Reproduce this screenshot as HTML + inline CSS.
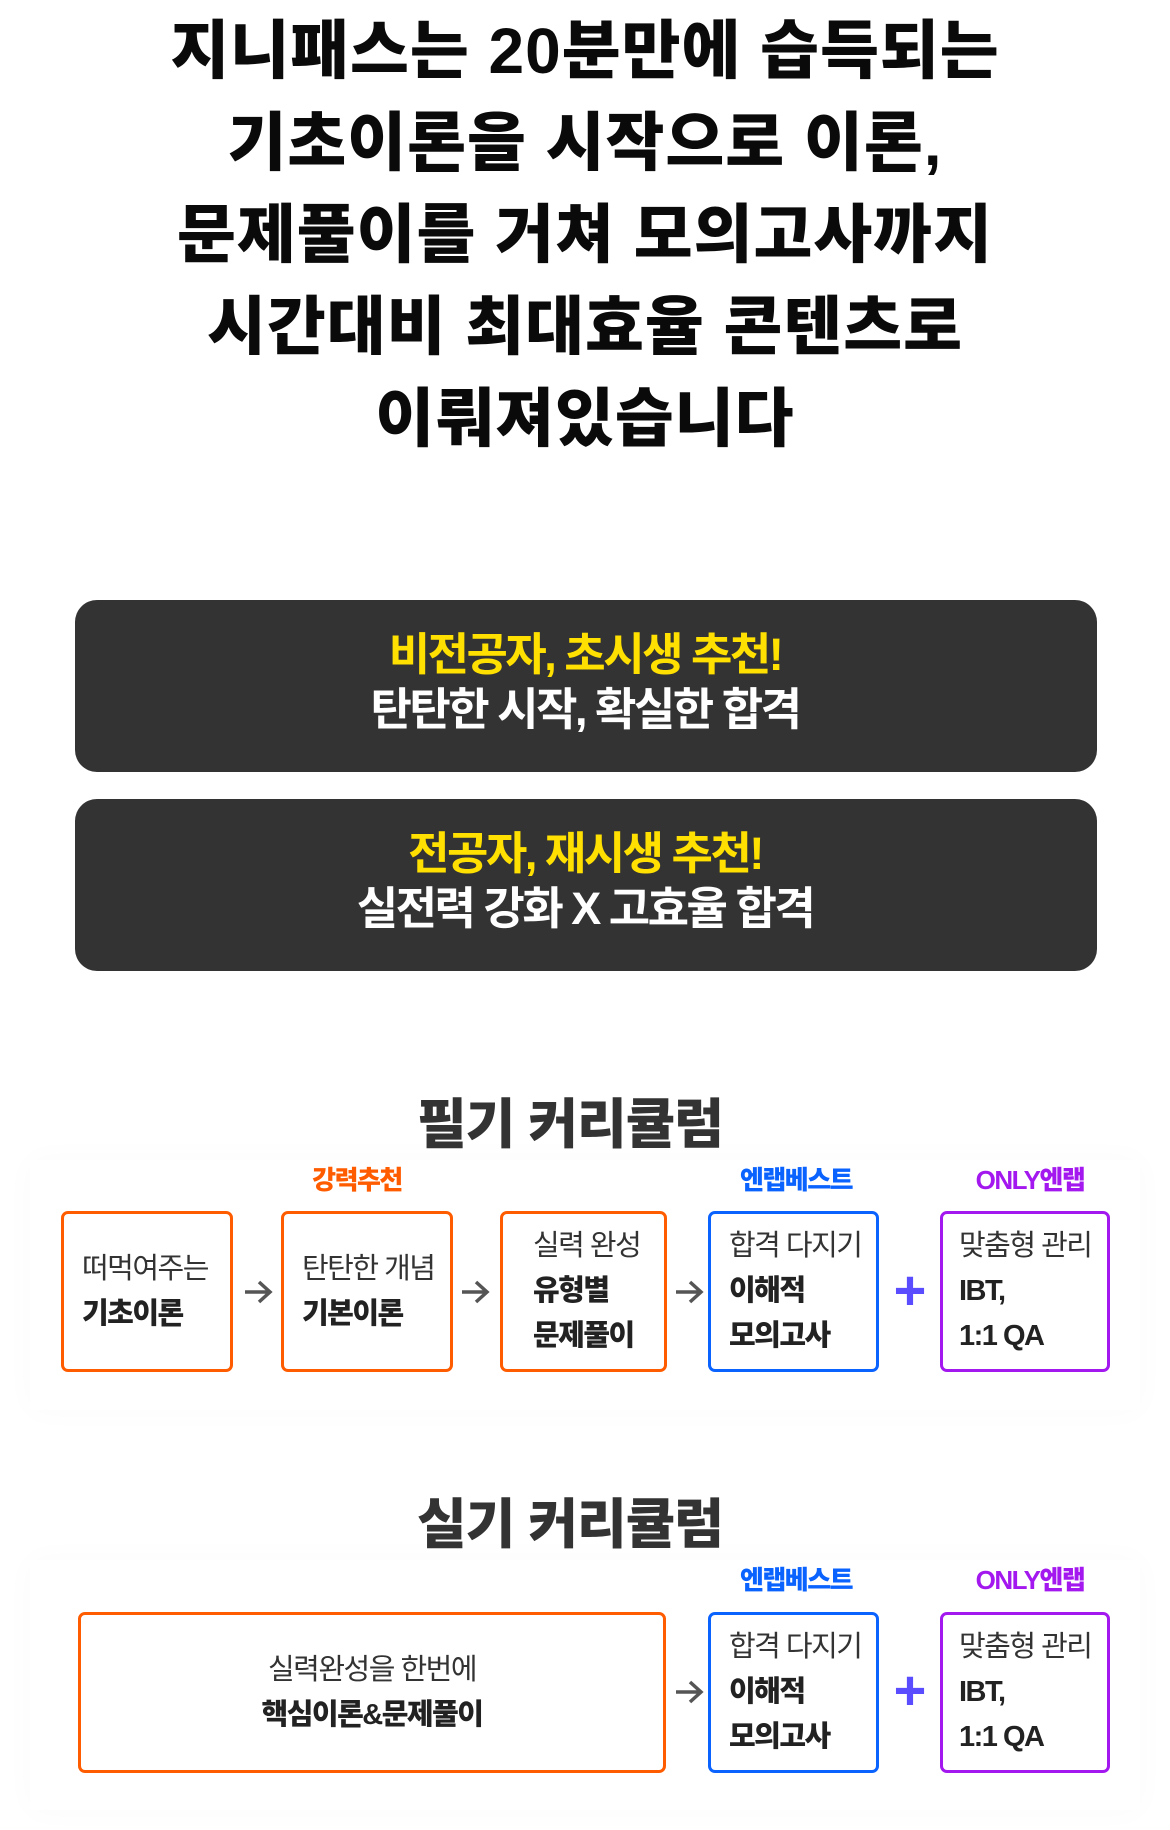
<!DOCTYPE html>
<html><head><meta charset="utf-8"><style>
*{margin:0;padding:0;box-sizing:border-box}
body{width:1170px;height:1830px;background:#fff;position:relative;overflow:hidden;font-family:"Liberation Sans","Noto Sans CJK KR",sans-serif;color:#111}
.t{position:absolute;left:0;width:1170px;text-align:center}
.title{font-size:64px;font-weight:900;letter-spacing:1px;line-height:92px;top:5px;color:#0a0a0a}
.dark{position:absolute;left:75px;width:1022px;height:172px;background:#333;border-radius:22px}
.y{color:#ffe000;font-size:45px;font-weight:700;letter-spacing:-2.5px}
.w{color:#fff;font-size:45px;font-weight:700;letter-spacing:-2.5px}
.h{font-size:54px;font-weight:900;letter-spacing:-1px;color:#333}
.box{position:absolute;border:3.5px solid;border-radius:7px;background:#fff;font-size:29px;color:#333;letter-spacing:-1.5px;line-height:45px;padding-left:18px;display:flex;flex-direction:column;justify-content:center}
.box b{font-weight:900;color:#222}
.o{border-color:#ff5c00}.b{border-color:#0a62ff}.p{border-color:#a318ee}
.lab{position:absolute;font-size:26px;font-weight:900;letter-spacing:-1.5px;transform:translateX(-50%);white-space:nowrap}
.arr{position:absolute;width:30px;height:26px;transform:translate(-50%,-50%)}
.plus{position:absolute;font-size:56px;color:#5a4cff;transform:translate(-50%,-50%);font-weight:700}
.panel{position:absolute;left:30px;width:1110px;background:#fff;box-shadow:0 0 30px rgba(0,0,0,0.025)}
</style></head><body>
<div class="t title">지니패스는 20분만에 습득되는<br>기초이론을 시작으로 이론,<br>문제풀이를 거쳐 모의고사까지<br>시간대비 최대효율 콘텐츠로<br>이뤄져있습니다</div>

<div class="dark" style="top:600px"></div>
<div class="t y" style="top:618px">비전공자, 초시생 추천!</div>
<div class="t w" style="top:673px">탄탄한 시작, 확실한 합격</div>
<div class="dark" style="top:799px"></div>
<div class="t y" style="top:817px">전공자, 재시생 추천!</div>
<div class="t w" style="top:872px">실전력 강화 X 고효율 합격</div>

<div class="panel" style="top:1160px;height:250px"></div>
<div class="panel" style="top:1560px;height:250px"></div>

<div class="t h" style="top:1080px;left:-15px">필기 커리큘럼</div>
<div class="lab" style="left:357px;top:1160px;color:#ff5c00">강력추천</div>
<div class="lab" style="left:796px;top:1160px;color:#0a62ff">엔랩베스트</div>
<div class="lab" style="left:1030px;top:1160px;color:#a318ee">ONLY엔랩</div>
<div class="box o" style="left:61px;top:1211px;width:172px;height:161px"><span>떠먹여주는</span><b>기초이론</b></div>
<div class="box o" style="left:281px;top:1211px;width:172px;height:161px"><span>탄탄한 개념</span><b>기본이론</b></div>
<div class="box o" style="left:500px;top:1211px;width:167px;height:161px;padding-left:30px"><span>실력 완성</span><b>유형별</b><b>문제풀이</b></div>
<div class="box b" style="left:708px;top:1211px;width:171px;height:161px;padding-left:18px"><span>합격 다지기</span><b>이해적</b><b>모의고사</b></div>
<div class="box p" style="left:940px;top:1211px;width:170px;height:161px;padding-left:16px"><span>맞춤형 관리</span><b>IBT,</b><b>1:1 QA</b></div>
<svg class="arr" style="left:258px;top:1292px" viewBox="0 0 30 26"><path d="M2 13H27M16 3L27 13L16 23" fill="none" stroke="#555" stroke-width="3.5"/></svg>
<svg class="arr" style="left:475px;top:1292px" viewBox="0 0 30 26"><path d="M2 13H27M16 3L27 13L16 23" fill="none" stroke="#555" stroke-width="3.5"/></svg>
<svg class="arr" style="left:689px;top:1292px" viewBox="0 0 30 26"><path d="M2 13H27M16 3L27 13L16 23" fill="none" stroke="#555" stroke-width="3.5"/></svg>
<div class="plus" style="left:910px;top:1290px">+</div>

<div class="t h" style="top:1480px;left:-15px">실기 커리큘럼</div>
<div class="lab" style="left:796px;top:1560px;color:#0a62ff">엔랩베스트</div>
<div class="lab" style="left:1030px;top:1560px;color:#a318ee">ONLY엔랩</div>
<div class="box o" style="left:78px;top:1612px;width:588px;height:161px;padding-left:0;align-items:center"><span>실력완성을 한번에</span><b>핵심이론&amp;문제풀이</b></div>
<div class="box b" style="left:708px;top:1612px;width:171px;height:161px"><span>합격 다지기</span><b>이해적</b><b>모의고사</b></div>
<div class="box p" style="left:940px;top:1612px;width:170px;height:161px;padding-left:16px"><span>맞춤형 관리</span><b>IBT,</b><b>1:1 QA</b></div>
<svg class="arr" style="left:689px;top:1692px" viewBox="0 0 30 26"><path d="M2 13H27M16 3L27 13L16 23" fill="none" stroke="#555" stroke-width="3.5"/></svg>
<div class="plus" style="left:910px;top:1690px">+</div>
</body></html>
